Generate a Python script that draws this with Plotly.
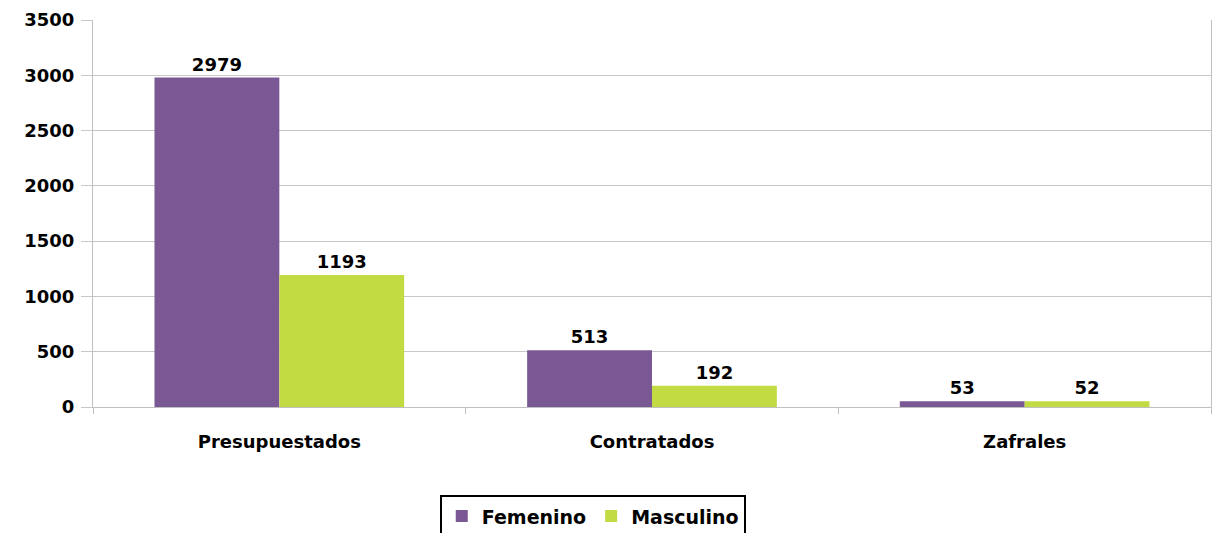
import plotly.graph_objects as go

categories = ["Presupuestados", "Contratados", "Zafrales"]
femenino = [2979, 513, 53]
masculino = [1193, 192, 52]
y_ticks = [0, 500, 1000, 1500, 2000, 2500, 3000, 3500]

FONT = dict(family="DejaVu Sans", size=18, color="#000000", weight="bold")
LEG_FONT = dict(family="DejaVu Sans", size=19, color="#000000", weight="bold")

fig = go.Figure()
fig.add_trace(go.Bar(name="Femenino", x=categories, y=femenino,
                     marker=dict(color="#7A5894", line=dict(width=0)),
                     text=[str(v) for v in femenino], textposition="outside",
                     textfont=FONT, cliponaxis=False))
fig.add_trace(go.Bar(name="Masculino", x=categories, y=masculino,
                     marker=dict(color="#C3DB42", line=dict(width=0)),
                     text=[str(v) for v in masculino], textposition="outside",
                     textfont=FONT, cliponaxis=False))

fig.update_layout(
    width=1213, height=533,
    margin=dict(l=93, r=2, t=20, b=126, autoexpand=False),
    paper_bgcolor="white", plot_bgcolor="white",
    barmode="group", bargap=0.33, bargroupgap=0,
    font=FONT,
    showlegend=True,
    legend=dict(orientation="h", x=0.447, xanchor="center", y=-0.228, yanchor="top",
                bordercolor="#000000", borderwidth=2, font=LEG_FONT,
                itemwidth=30, tracegroupgap=0),
    xaxis=dict(showline=True, linecolor="#BFBFBF", linewidth=1, automargin=False,
               tickson="boundaries", ticks="outside", ticklen=6, tickcolor="#BFBFBF",
               showgrid=False, tickfont=FONT, ticklabelstandoff=18),
    yaxis=dict(range=[0, 3500], tickvals=y_ticks, ticktext=[str(v) for v in y_ticks],
               showline=True, linecolor="#BFBFBF", linewidth=1, mirror=True, automargin=False,
               gridcolor="#C8C8C8", gridwidth=1,
               ticks="outside", ticklen=11, tickcolor="#C8C8C8",
               tickfont=FONT, zeroline=False, ticklabelstandoff=3),
)

post = ("document.body.style.margin='0';document.body.style.overflow='hidden';"
        "Plotly.relayout('{plot_id}', {width:1213, height:533});")
fig.write_html("out.html", post_script=post, config={"displayModeBar": False})
